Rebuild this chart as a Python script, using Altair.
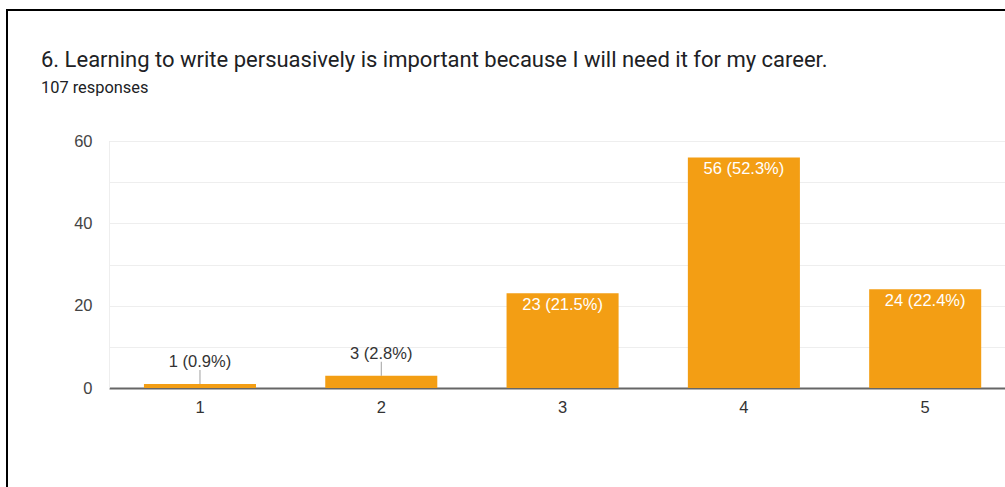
import altair as alt
import pandas as pd

# Survey answers on a 1-5 scale and how many respondents picked each
categories = ["1", "2", "3", "4", "5"]
counts = [1, 3, 23, 56, 24]
total_responses = 107

question = "6. Learning to write persuasively is important because I will need it for my career."
subtitle = f"{total_responses} responses"

BAR_COLOR = "#F39E14"
TITLE_FONT = "Roboto"
LABEL_FONT = "Arial, Liberation Sans"
LABEL_SIZE = 16.5

df = pd.DataFrame({"answer": categories, "count": counts})

base = alt.Chart(df).transform_calculate(
    pct="format(datum.count / %d * 100, '.1f')" % total_responses
).transform_calculate(
    label="datum.count + ' (' + datum.pct + '%)'"
)

x_enc = alt.X(
    "answer:N",
    sort=categories,
    title=None,
    scale=alt.Scale(paddingInner=0.382, paddingOuter=0.162, align=0.595),
    axis=alt.Axis(
        labelAngle=0,
        labelFontSize=LABEL_SIZE,
        labelColor="#333333",
        labelFont=LABEL_FONT,
        labelPadding=11,
        ticks=False,
        domainColor="#666666",
        domainWidth=2,
        grid=False,
    ),
)
y_scale = alt.Scale(domain=[0, 60], nice=False)
y_enc = alt.Y(
    "count:Q",
    title=None,
    scale=y_scale,
    axis=alt.Axis(
        values=[0, 10, 20, 30, 40, 50, 60],
        labelExpr="datum.value % 20 == 0 ? datum.label : ''",
        labelFontSize=LABEL_SIZE,
        labelColor="#444444",
        labelFont=LABEL_FONT,
        labelPadding=17,
        ticks=False,
        domainColor="#eeeeee",
        gridColor="#eeeeee",
        gridWidth=1,
    ),
)

bars = base.mark_bar(color=BAR_COLOR).encode(x=x_enc, y=y_enc)

x_plain = alt.X("answer:N", sort=categories)
y_plain = alt.Y("count:Q", scale=y_scale)

# Tall bars carry their label inside, near the top
inside = base.transform_filter("datum.count >= 10").mark_text(
    color="white", font=LABEL_FONT, fontSize=LABEL_SIZE, baseline="alphabetic", dy=17
).encode(x=x_plain, y=y_plain, text="label:N")

# Short bars get the label above with a small leader line
leader = base.transform_filter("datum.count < 10").mark_tick(
    orient="vertical", size=14, thickness=1, color="#777777", yOffset=-7
).encode(x=x_plain, y=y_plain)

outside = base.transform_filter("datum.count < 10").mark_text(
    color="#333333", font=LABEL_FONT, fontSize=LABEL_SIZE, baseline="alphabetic", dy=-17
).encode(x=x_plain, y=y_plain, text="label:N")

# Question heading and response count
heading = alt.Chart(pd.DataFrame({"t": [question]})).mark_text(
    font=TITLE_FONT, fontSize=22, color="#202124", align="left", baseline="alphabetic"
).encode(x=alt.value(-68), y=alt.value(-74.5), text="t:N")

count_line = alt.Chart(pd.DataFrame({"t": [subtitle]})).mark_text(
    font=TITLE_FONT, fontSize=16.4, color="#202124", align="left", baseline="alphabetic"
).encode(x=alt.value(-68), y=alt.value(-48), text="t:N")

# Black frame around the card
frame_top = alt.Chart(df).mark_rule(color="black", strokeWidth=2).encode(
    x=alt.value(-102), x2=alt.value(900), y=alt.value(-131)
)
frame_left = alt.Chart(df).mark_rule(color="black", strokeWidth=2).encode(
    x=alt.value(-102), y=alt.value(-132), y2=alt.value(350)
)

chart = alt.layer(
    bars, leader, outside, inside, heading, count_line, frame_top, frame_left
).properties(
    width=896,
    height=247,
    padding={"left": 109, "top": 141, "right": 0, "bottom": 99},
    autosize=alt.AutoSizeParams(type="none"),
).configure_view(stroke=None).configure(background="white")

chart.save("out.html", embed_options={"renderer": "svg", "actions": False})
